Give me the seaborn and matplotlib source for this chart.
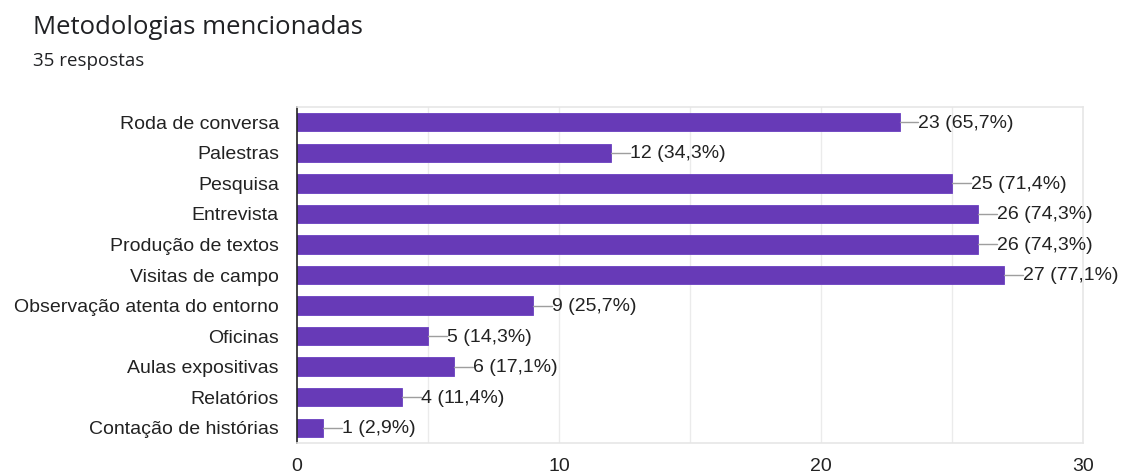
import matplotlib
matplotlib.use("Agg")
import matplotlib.pyplot as plt
import seaborn as sns
import pandas as pd

categories = ["Roda de conversa", "Palestras", "Pesquisa", "Entrevista", "Produção de textos",
              "Visitas de campo", "Observação atenta do entorno", "Oficinas", "Aulas expositivas",
              "Relatórios", "Contação de histórias"]
counts = [23, 12, 25, 26, 26, 27, 9, 5, 6, 4, 1]
percents = ["65,7%", "34,3%", "71,4%", "74,3%", "74,3%", "77,1%", "25,7%", "14,3%", "17,1%", "11,4%", "2,9%"]
total = 35
x_ticks = [0, 10, 20, 30]

sns.set_theme(style="white")
plt.rcParams['font.family'] = ['Liberation Sans', 'DejaVu Sans']

df = pd.DataFrame({"cat": categories, "n": counts})

fig = plt.figure(figsize=(11.23, 4.74), dpi=100)
ax = fig.add_axes([297/1123, 1-443/474, (1083-297)/1123, (443-107)/474])

sns.barplot(data=df, y="cat", x="n", orient="h", color="#673ab7", saturation=1,
            width=0.6, ax=ax, edgecolor="#6a3fc0", linewidth=0.6)

ax.set_xlim(0, 30)
ax.set_ylim(len(categories) - 0.5, -0.5)
for v in range(5, 30, 5):
    ax.axvline(v, color="#ebebeb", lw=1, zorder=0)
ax.set_axisbelow(True)

for i, (c, p) in enumerate(zip(counts, percents)):
    ax.plot([c, c + 0.72], [i, i], color="#9e9e9e", lw=1, zorder=3)
    ax.text(c + 0.72, i + 0.03, f"{c} ({p})", va="center", ha="left", fontsize=14, color="#222222")

ax.set_xticks(x_ticks)
ax.set_xticklabels([str(t) for t in x_ticks], fontsize=14, color="#222222")
ax.tick_params(axis="x", length=0, pad=11)
ax.tick_params(axis="y", length=0, pad=13, labelsize=14, labelcolor="#222222")
ax.set_xlabel("")
ax.set_ylabel("")

for side in ["top", "right", "bottom"]:
    ax.spines[side].set_color("#e6e6e6")
    ax.spines[side].set_linewidth(1.2)
ax.spines["left"].set_color("#222222")
ax.spines["left"].set_linewidth(1.2)

fig.text(33/1123, 1-27/474, "Metodologias mencionadas", fontsize=18.5, color="#202124",
         va="center", ha="left", family=["Open Sans", "DejaVu Sans"])
fig.text(33/1123, 1-61/474, f"{total} respostas", fontsize=13.5, color="#202124",
         va="center", ha="left", family=["Open Sans", "DejaVu Sans"])

fig.savefig("out.png", dpi=100, facecolor="white")
